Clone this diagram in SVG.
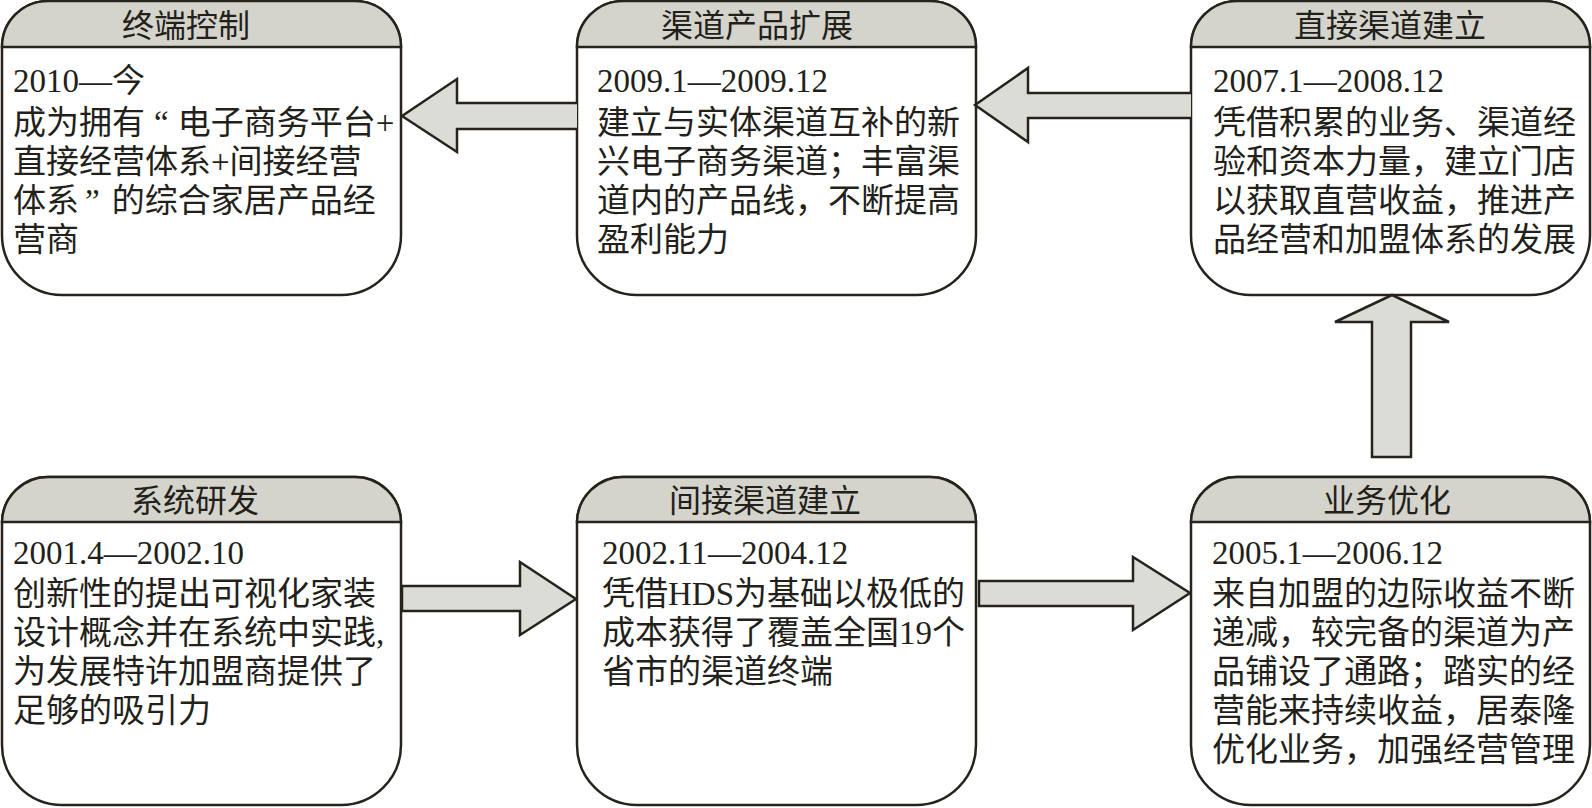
<svg xmlns="http://www.w3.org/2000/svg" width="1592" height="808" viewBox="0 0 1592 808">
<style>
.box{fill:#ffffff;stroke:#26231c;stroke-width:2.5}
.hdr{fill:#d4d4cc;stroke:#26231c;stroke-width:2.5}
.arr{fill:#dcdcd6;stroke:#26231c;stroke-width:2.5;stroke-linejoin:miter}
.t{font-family:"Liberation Serif","Noto Sans CJK SC",serif;font-size:33px;fill:#231f1a}
.h{font-family:"Liberation Serif","Noto Sans CJK SC",serif;font-size:32px;fill:#231f1a;text-anchor:middle}
</style>
<rect width="1592" height="808" fill="#ffffff"/>

<g id="node-zhongduan">
<path class="box" d="M2,47 A46,46 0 0 1 48,1 H355 A46,46 0 0 1 401,47 V235 A60,60 0 0 1 341,295 H62 A60,60 0 0 1 2,235 Z"/>
<path class="hdr" d="M2,47 A46,46 0 0 1 48,1 H355 A46,46 0 0 1 401,47 Z"/>
<text class="h" x="186" y="37">终端控制</text>
<text class="t" x="13" y="92">2010—今</text>
<text class="t" x="13" y="134">成为拥有<tspan dx="9">“</tspan><tspan dx="9">电子商务平台+</tspan></text>
<text class="t" x="13" y="173">直接经营体系+间接经营</text>
<text class="t" x="13" y="212">体系<tspan dx="6">”</tspan><tspan dx="12">的综合家居产品经</tspan></text>
<text class="t" x="13" y="251">营商</text>
</g>

<g id="node-qudao-kuozhan">
<path class="box" d="M577,47 A46,46 0 0 1 623,1 H930 A46,46 0 0 1 976,47 V235 A60,60 0 0 1 916,295 H637 A60,60 0 0 1 577,235 Z"/>
<path class="hdr" d="M577,47 A46,46 0 0 1 623,1 H930 A46,46 0 0 1 976,47 Z"/>
<text class="h" x="757" y="37">渠道产品扩展</text>
<text class="t" x="597" y="92">2009.1—2009.12</text>
<text class="t" x="597" y="134">建立与实体渠道互补的新</text>
<text class="t" x="597" y="173">兴电子商务渠道；丰富渠</text>
<text class="t" x="597" y="212">道内的产品线，不断提高</text>
<text class="t" x="597" y="251">盈利能力</text>
</g>

<g id="node-zhijie">
<path class="box" d="M1191,47 A46,46 0 0 1 1237,1 H1544 A46,46 0 0 1 1590,47 V235 A60,60 0 0 1 1530,295 H1251 A60,60 0 0 1 1191,235 Z"/>
<path class="hdr" d="M1191,47 A46,46 0 0 1 1237,1 H1544 A46,46 0 0 1 1590,47 Z"/>
<text class="h" x="1390" y="37">直接渠道建立</text>
<text class="t" x="1213" y="92">2007.1—2008.12</text>
<text class="t" x="1213" y="134">凭借积累的业务、渠道经</text>
<text class="t" x="1213" y="173">验和资本力量，建立门店</text>
<text class="t" x="1213" y="212">以获取直营收益，推进产</text>
<text class="t" x="1213" y="251">品经营和加盟体系的发展</text>
</g>

<g id="node-xitong">
<path class="box" d="M2,522 A46,46 0 0 1 48,477 H355 A46,46 0 0 1 401,522 V745 A60,60 0 0 1 341,805 H62 A60,60 0 0 1 2,745 Z"/>
<path class="hdr" d="M2,522 A46,46 0 0 1 48,477 H355 A46,46 0 0 1 401,522 Z"/>
<text class="h" x="195" y="512">系统研发</text>
<text class="t" x="13" y="564">2001.4—2002.10</text>
<text class="t" x="13" y="605">创新性的提出可视化家装</text>
<text class="t" x="13" y="644">设计概念并在系统中实践,</text>
<text class="t" x="13" y="683">为发展特许加盟商提供了</text>
<text class="t" x="13" y="722">足够的吸引力</text>
</g>

<g id="node-jianjie">
<path class="box" d="M577,522 A46,46 0 0 1 623,477 H930 A46,46 0 0 1 976,522 V745 A60,60 0 0 1 916,805 H637 A60,60 0 0 1 577,745 Z"/>
<path class="hdr" d="M577,522 A46,46 0 0 1 623,477 H930 A46,46 0 0 1 976,522 Z"/>
<text class="h" x="765" y="512">间接渠道建立</text>
<text class="t" x="602" y="564">2002.11—2004.12</text>
<text class="t" x="602" y="605">凭借HDS为基础以极低的</text>
<text class="t" x="602" y="644">成本获得了覆盖全国19个</text>
<text class="t" x="602" y="683">省市的渠道终端</text>
</g>

<g id="node-yewu">
<path class="box" d="M1191,522 A46,46 0 0 1 1237,477 H1544 A46,46 0 0 1 1590,522 V745 A60,60 0 0 1 1530,805 H1251 A60,60 0 0 1 1191,745 Z"/>
<path class="hdr" d="M1191,522 A46,46 0 0 1 1237,477 H1544 A46,46 0 0 1 1590,522 Z"/>
<text class="h" x="1387" y="512">业务优化</text>
<text class="t" x="1212" y="564">2005.1—2006.12</text>
<text class="t" x="1212" y="605">来自加盟的边际收益不断</text>
<text class="t" x="1212" y="644">递减，较完备的渠道为产</text>
<text class="t" x="1212" y="683">品铺设了通路；踏实的经</text>
<text class="t" x="1212" y="722">营能来持续收益，居泰隆</text>
<text class="t" x="1212" y="761">优化业务，加强经营管理</text>
</g>

<g id="connectors">
<path class="arr" d="M402,599 V586 H520 V562 L576,599 L520,635 V611 H402 Z"/>
<path class="arr" d="M979,581 H1133 V557 L1190,593 L1133,630 V606 H979 Z"/>
<path class="arr" d="M1372,457 V322 H1335 L1392,295 L1449,322 H1411 V457 Z"/>
<path class="arr" d="M1191,93 H1028 V68 L975,105 L1028,142 V118 H1191"/>
<path class="arr" d="M577,103 H457 V79 L402,116 L457,152 V129 H577"/>
</g>
</svg>
